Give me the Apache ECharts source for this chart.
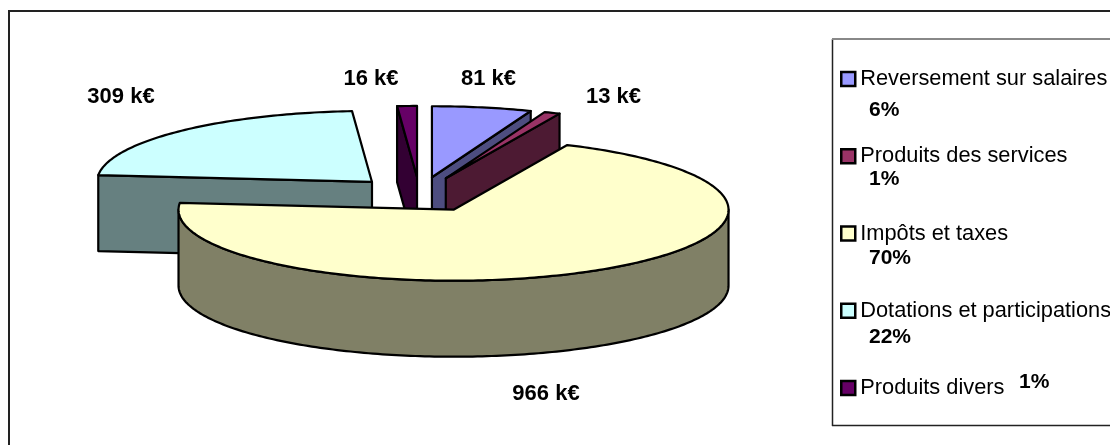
<!DOCTYPE html>
<html>
<head>
<meta charset="utf-8">
<style>html,body{margin:0;padding:0;background:#fff}#c{width:1110px;height:445px}</style>
<script src="https://cdn.jsdelivr.net/npm/echarts@6/dist/echarts.min.js"></script>
</head>
<body>
<div id="c"></div>
<script>
// Data
const categories = ['Reversement sur salaires', 'Produits des services', 'Impôts et taxes', 'Dotations et participations', 'Produits divers'];
const values = [81, 13, 966, 309, 16];
const percentLabels = ['6%', '1%', '70%', '22%', '1%'];

// Styles
const topColors = ['#9999FF', '#993366', '#FFFFCC', '#CCFFFF', '#660066'];
const sideColors = ['#4D4D80', '#4D1A33', '#808066', '#668080', '#330033'];
const paintOrder = [3, 4, 0, 1, 2];
const FONT = '"Liberation Sans", Arial, sans-serif';

// Pie projection
const pie = { cx: 419.5, cy: 194.5, rx: 275, ry: 71, depth: 76, explode: 68 };
const total = values.reduce((a, b) => a + b, 0);
const rad = d => d * Math.PI / 180;

function sliceRange(i) {
  let start = 0;
  for (let k = 0; k < i; k++) start += values[k];
  return [start / total * 360, (start + values[i]) / total * 360];
}
function rim(apex, a, dy) {
  return [apex[0] + pie.rx * Math.sin(rad(a)), apex[1] - pie.ry * Math.cos(rad(a)) + (dy || 0)];
}
function arc(apex, a, b, dy) {
  const pts = [], n = Math.max(2, Math.ceil(Math.abs(b - a)));
  for (let j = 0; j <= n; j++) pts.push(rim(apex, a + (b - a) * j / n, dy));
  return pts;
}
function makeRenderItem(i) {
  return function () {
    const [a, b] = sliceRange(i);
    const mid = (a + b) / 2;
    const apex = [
      pie.cx + pie.explode * Math.sin(rad(mid)),
      pie.cy - pie.explode * (pie.ry / pie.rx) * Math.cos(rad(mid))
    ];
    const stroke = { stroke: '#000', lineWidth: 2.2, lineJoin: 'round' };
    const poly = (points, fill) => ({
      type: 'polygon', shape: { points }, style: Object.assign({ fill }, stroke), silent: true
    });
    const kids = [];
    const cutFace = ang => {
      const r = rim(apex, ang);
      kids.push(poly([apex, r, [r[0], r[1] + pie.depth], [apex[0], apex[1] + pie.depth]], sideColors[i]));
    };
    if (Math.sin(rad(a)) < -1e-6) cutFace(a);
    if (Math.sin(rad(b)) > 1e-6) cutFace(b);
    const wa = Math.max(a, 90), wb = Math.min(b, 270);
    if (wb > wa) {
      kids.push(poly(arc(apex, wa, wb, 0).concat(arc(apex, wb, wa, pie.depth)), sideColors[i]));
    }
    kids.push(poly([apex].concat(arc(apex, a, b, 0)), topColors[i]));
    return { type: 'group', children: kids };
  };
}

// Text placed around the pie
const valueLabelPos = [[488.5, 79], [613.5, 97], [546, 394], [121, 97], [371, 79]];
const percentPos = [[869, 110], [869, 179], [869, 258], [869, 337], [1019, 382]];

const graphics = [];
graphics.push({ type: 'polyline', silent: true, z: 0, shape: { points: [[1115, 11], [9, 11], [9, 450]] }, style: { fill: null, stroke: '#222', lineWidth: 2 } });
graphics.push({ type: 'line', silent: true, z: 0, shape: { x1: 832.5, y1: 39, x2: 832.5, y2: 426 }, style: { stroke: '#222', lineWidth: 1.5 } });
graphics.push({ type: 'line', silent: true, z: 0, shape: { x1: 832, y1: 39, x2: 1115, y2: 39 }, style: { stroke: '#888', lineWidth: 2 } });
graphics.push({ type: 'line', silent: true, z: 0, shape: { x1: 832, y1: 425.5, x2: 1115, y2: 425.5 }, style: { stroke: '#222', lineWidth: 1.5 } });
values.forEach((v, i) => {
  graphics.push({ type: 'text', silent: true, z: 20, x: valueLabelPos[i][0], y: valueLabelPos[i][1],
    style: { text: v + ' k€', font: 'bold 22px ' + FONT, fill: '#000', align: 'center', verticalAlign: 'middle' } });
  graphics.push({ type: 'text', silent: true, z: 20, x: percentPos[i][0], y: percentPos[i][1],
    style: { text: percentLabels[i], font: 'bold 21px ' + FONT, fill: '#000', align: 'left', verticalAlign: 'middle' } });
});

const chart = echarts.init(document.getElementById('c'), null, { renderer: 'canvas' });
chart.setOption({
  animation: false,
  backgroundColor: '#fff',
  graphic: graphics,
  legend: {
    orient: 'vertical',
    left: 840,
    top: 67,
    padding: 0,
    itemWidth: 14,
    itemHeight: 14,
    itemGap: 53.25,
    selectedMode: false,
    icon: 'rect',
    textStyle: { fontFamily: FONT, fontSize: 21.8, color: '#000', lineHeight: 24 },
    data: categories.map((name, i) => ({
      name,
      itemStyle: { color: topColors[i], borderColor: '#000', borderWidth: 2.5 }
    }))
  },
  series: categories.map((name, i) => ({
    type: 'custom',
    name,
    coordinateSystem: 'none',
    silent: true,
    z: 2 + paintOrder.indexOf(i),
    itemStyle: { color: topColors[i] },
    data: [values[i]],
    renderItem: makeRenderItem(i)
  }))
});
</script>
</body>
</html>
